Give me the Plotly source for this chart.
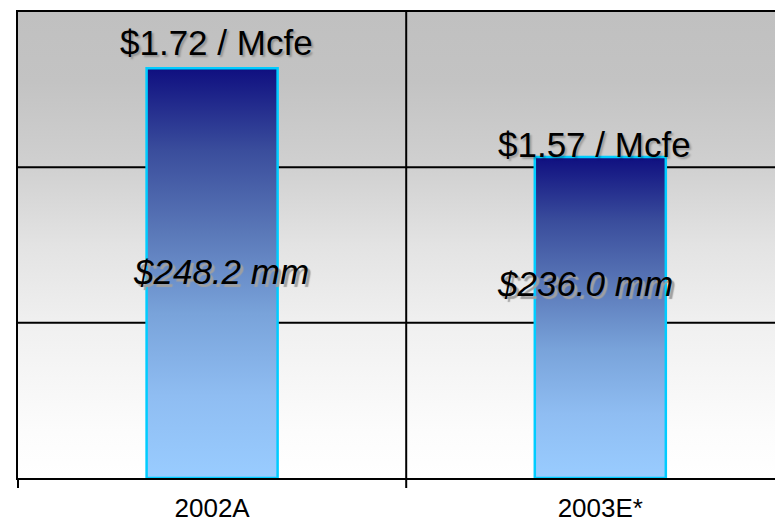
import plotly.graph_objects as go

# Data
categories = ["2002A", "2003E*"]
cost_mm = [248.2, 236.0]            # total cost, $ millions
cost_per_mcfe = [1.72, 1.57]        # unit cost, $ / Mcfe
mm_labels = ["$248.2 mm", "$236.0 mm"]
unit_labels = ["$1.72 / Mcfe", "$1.57 / Mcfe"]

# Value axis (not zero-based) and its gridline step
Y_MIN, Y_MAX = 192.0, 255.9
Y_STEP = (Y_MAX - Y_MIN) / 3
X_RANGE = [-0.5, 1.45]
BAR_W = 0.3375

FONT = "Liberation Sans Narrow, Arial Narrow, Liberation Sans, Arial, sans-serif"

bg_scale = [
    [0.0, "#ffffff"], [0.10, "#fcfcfc"], [0.33, "#f0f0f0"],
    [0.50, "#e3e3e3"], [0.67, "#d0d0d0"], [0.85, "#c3c3c3"], [1.0, "#c0c0c0"],
]
bar_scale = [
    [0.0, "#99ccff"], [0.2, "#8fbdf2"], [0.4, "#79a3da"],
    [0.6, "#5a78b8"], [0.8, "#3a4d9c"], [1.0, "#0f0f80"],
]

fig = go.Figure()

# Shaded plot background
fig.add_trace(go.Scatter(
    x=[X_RANGE[0], X_RANGE[1], X_RANGE[1], X_RANGE[0], X_RANGE[0]],
    y=[Y_MIN, Y_MIN, Y_MAX, Y_MAX, Y_MIN],
    mode="lines", line=dict(width=0), fill="toself",
    fillgradient=dict(type="vertical", colorscale=bg_scale),
    hoverinfo="skip", showlegend=False,
))

# Horizontal gridlines
for k in (1, 2):
    yv = Y_MIN + k * Y_STEP
    fig.add_trace(go.Scatter(
        x=X_RANGE, y=[yv, yv], mode="lines",
        line=dict(color="black", width=2),
        hoverinfo="skip", showlegend=False,
    ))

# Bars: gradient-filled rectangles with a cyan outline
for i, v in enumerate(cost_mm):
    x0, x1 = i - BAR_W / 2, i + BAR_W / 2
    fig.add_trace(go.Scatter(
        x=[x0, x1, x1, x0, x0], y=[Y_MIN, Y_MIN, v, v, Y_MIN],
        mode="lines", line=dict(color="#00ccff", width=2.5), fill="toself",
        fillgradient=dict(type="vertical", colorscale=bar_scale),
        name=categories[i], hoverinfo="skip", showlegend=False,
    ))

annotations = []
unit_shift = [(4, 4), (-6, -9)]
for i, txt in enumerate(unit_labels):
    dx, dy = unit_shift[i]
    annotations.append(dict(
        x=i, y=cost_mm[i], xref="x", yref="y", text=txt, showarrow=False,
        xanchor="center", yanchor="bottom", xshift=dx, yshift=dy,
        font=dict(family=FONT, size=35, color="black",
                  shadow="2px 2px 2px rgba(0,0,0,0.25)"),
    ))
mm_pos = [(9, 0.443), (-15, 0.417)]
for i, txt in enumerate(mm_labels):
    dx, yp = mm_pos[i]
    annotations.append(dict(
        x=i, y=yp, xref="x", yref="paper", text=f"<i>{txt}</i>", showarrow=False,
        xanchor="center", yanchor="middle", xshift=dx,
        font=dict(family=FONT, size=35, color="black",
                  shadow="3px 3px 1px #a0a0a0"),
    ))

tick_len = 10 / 466
shapes = [
    dict(type="line", xref="x", yref="paper", x0=0.5, x1=0.5, y0=-tick_len, y1=1,
         line=dict(color="black", width=2), layer="above"),
    dict(type="line", xref="paper", yref="paper", x0=0, x1=0, y0=-tick_len, y1=0,
         line=dict(color="black", width=2), layer="above"),
]

fig.update_layout(
    width=775, height=525,
    margin=dict(l=18, r=0, t=12, b=47),
    paper_bgcolor="white", plot_bgcolor="white",
    showlegend=False, annotations=annotations, shapes=shapes,
    xaxis=dict(
        range=X_RANGE, tickmode="array", tickvals=[0, 1], ticktext=categories,
        showgrid=False, zeroline=False, ticks="", ticklabelstandoff=6,
        automargin=False,
        showline=True, mirror=True, linecolor="black", linewidth=2,
        tickfont=dict(family=FONT, size=26, color="black"),
    ),
    yaxis=dict(
        range=[Y_MIN, Y_MAX], showgrid=False, zeroline=False,
        showticklabels=False, ticks="", automargin=False,
        showline=True, linecolor="black", linewidth=2,
    ),
)

fig.write_html("out.html")
